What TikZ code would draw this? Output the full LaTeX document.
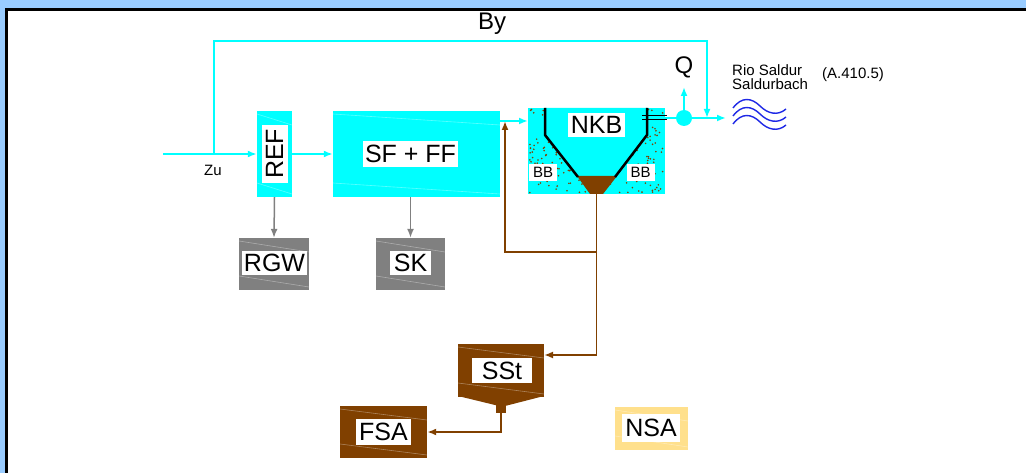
\documentclass[tikz,border=0pt]{standalone}
\usepackage{fontspec}
\setmainfont{Liberation Sans}
\usetikzlibrary{arrows.meta}

\definecolor{skyback}{RGB}{153,204,255}
\definecolor{water}{RGB}{0,255,255}
\definecolor{sludge}{RGB}{128,64,0}
\definecolor{grit}{RGB}{128,128,128}
\definecolor{sandy}{RGB}{255,224,140}
\definecolor{wave}{RGB}{30,40,230}

\tikzset{
  unit/.style={inner sep=0pt, minimum width=#1},
  grain/.style={path picture={
      \draw[white, opacity=.35, line width=.6pt]
        ([yshift=-3pt]path picture bounding box.north west) -- ([yshift=-14pt]path picture bounding box.north east)
        ([yshift=14pt]path picture bounding box.south west) -- ([yshift=3pt]path picture bounding box.south east);}},
  tag/.style={fill=white, inner sep=0pt, font=\fontsize{25}{25}\selectfont},
  small/.style={inner sep=0pt, font=\fontsize{15}{14}\selectfont},
  flow/.style={water, line width=2pt},
  mud/.style={sludge, line width=1.8pt},
  dry/.style={grit, line width=1.5pt},
  tip/.style={-{Latex[length=9pt,width=7pt]}}
}

\begin{document}
\begin{tikzpicture}[x=1pt,y=-1pt]
  \useasboundingbox (0,0) rectangle (1026,473);
  % frame
  \fill[skyback] (0,0) rectangle (1026,473);
  \fill[white] (5,8) rectangle (1026,473);
  \draw[black, line width=3pt] (6.5,473) -- (6.5,9.5) -- (1026,9.5);

  % boxes
  \node[unit=35pt, minimum height=86pt, fill=water, grain] (ref) at (274.5,154) {};
  \node[tag, rotate=90, minimum width=58pt, minimum height=26pt] (reflabel) at (ref) {REF};

  \node[unit=167pt, minimum height=86pt, fill=water, grain] (sf) at (416.5,154) {};
  \node[tag, minimum width=95pt, minimum height=26pt] (sflabel) at (410.5,154) {SF + FF};

  \node[unit=137pt, minimum height=86pt, fill=water] (nkb) at (596.5,151) {};
  \pgfmathsetseed{11}
  \foreach \i in {1,...,300}
    \fill[sludge] ({529+135*rnd},{109+84*rnd}) circle (0.9pt);
  \fill[water] (545,108) -- (545,135) -- (578,177) -- (615,177) -- (647,135) -- (647,108) -- cycle;
  \fill[sludge] (577,176) -- (617,176) -- (603,194) -- (590,194) -- cycle;
  \draw[black, line width=2.5pt] (545,108) -- (545,135) -- (578,177);
  \draw[black, line width=2.5pt] (647,108) -- (647,135) -- (615,177);
  \draw[black, line width=1pt] (642,116) -- (667,116) (642,119.5) -- (667,119.5);
  \node[tag, minimum width=57pt, minimum height=24pt] (nkblabel) at (596.5,125) {NKB};
  \node[tag, small, minimum width=28pt, minimum height=17pt] (bbleft) at (543,172.5) {BB};
  \node[tag, small, minimum width=28pt, minimum height=17pt] (bbright) at (640.5,172.5) {BB};

  \node[unit=70pt, minimum height=52pt, fill=grit, grain] (rgw) at (274,264) {};
  \node[tag, minimum width=65pt, minimum height=24pt] (rgwlabel) at (274.5,263) {RGW};
  \node[unit=69pt, minimum height=52pt, fill=grit, grain] (sk) at (410.5,264) {};
  \node[tag, minimum width=41pt, minimum height=24pt] (sklabel) at (410.5,263) {SK};

  \node[unit=86pt, minimum height=53pt, fill=sludge, grain] (sst) at (501,370.5) {};
  \fill[sludge] (458,396) -- (544,396) -- (507,405.5) -- (497,405.5) -- cycle;
  \fill[sludge] (496,405) rectangle (506,413);
  \node[tag, minimum width=60pt, minimum height=25pt] (sstlabel) at (502,370.5) {SSt};

  \node[unit=87pt, minimum height=52pt, fill=sludge, grain] (fsa) at (383.5,432) {};
  \node[tag, minimum width=55pt, minimum height=26pt] (fsalabel) at (383.5,432) {FSA};

  \node[unit=73pt, minimum height=43pt, fill=sandy, grain] (nsa) at (651.5,428.5) {};
  \node[tag, minimum width=58pt, minimum height=28pt] (nsalabel) at (651,428) {NSA};

  \node[circle, fill=water, minimum size=16pt, inner sep=0pt] (qpt) at (684,118) {};

  % texts
  \node[inner sep=0pt, font=\fontsize{24}{24}\selectfont] (bylabel) at (492,24) {By};
  \node[small] (zulabel) at (213,170) {Zu};
  \node[inner sep=0pt, font=\fontsize{24}{24}\selectfont] (qlabel) at (684,67) {Q};
  \node[small, align=left, anchor=west] (river) at (732,77.5) {Rio Saldur\\Saldurbach};
  \node[small, anchor=west] (code) at (822,75) {(A.410.5)};
  \foreach \dy in {0,8,16}
    \draw[wave, line width=1.4pt] (733,{108+\dy}) .. controls (742,{96+\dy}) and (752,{98+\dy}) .. (760,{106+\dy})
      .. controls (768,{114+\dy}) and (778,{116+\dy}) .. (786,{109+\dy});

  % water line
  \coordinate (zu) at (163,154);
  \coordinate (tee) at (214,154);
  \coordinate (bytop) at (214,41);
  \coordinate (byin) at (707,118);
  \coordinate (nkbin) at (528,121);
  \coordinate (qtop) at (684,87);
  \coordinate (outlet) at (726,118);
  \draw[flow, tip] (zu) -- (ref.west);
  \draw[flow, tip] (tee) -- (bytop) -| (byin);
  \draw[flow, tip] (ref.east) -- (sf.west);
  \draw[flow, tip] (sf.east |- nkbin) -- (nkbin);
  \draw[flow] (nkb.east |- qpt) -- (qpt.west);
  \draw[flow, tip] (qpt.north) -- (qtop);
  \draw[flow, tip] (qpt.east) -- (outlet);

  % screenings and sand
  \draw[dry, tip] (ref.south) -- (rgw.north);
  \draw[dry, tip] (sk.north |- sf.south) -- (sk.north);

  % sludge line
  \coordinate (split) at (597,252);
  \coordinate (ret) at (505,121);
  \coordinate (sstin) at (544,355);
  \coordinate (spout) at (501,413);
  \draw[mud, tip] (nkb.south) |- (sstin);
  \draw[mud, tip] (split) -| (ret);
  \draw[mud, tip] (spout) |- (fsa.east);
\end{tikzpicture}
\end{document}
